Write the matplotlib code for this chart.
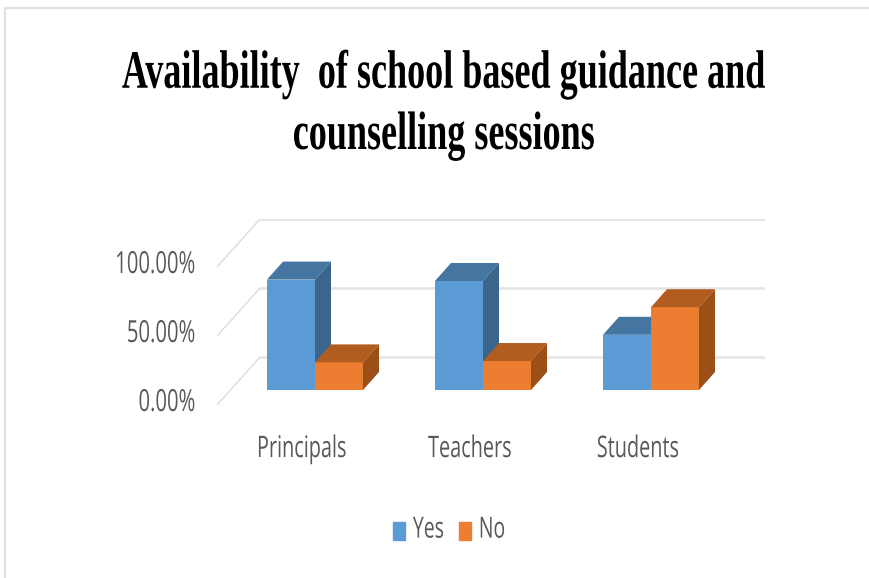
import matplotlib
matplotlib.use("Agg")
import matplotlib.pyplot as plt
import matplotlib.patheffects as pe
from matplotlib.patches import Patch, Rectangle
from matplotlib.transforms import Affine2D, ScaledTranslation

categories = ["Principals", "Teachers", "Students"]
yes = [80, 79, 40]
no = [20, 21, 60]
yticks = [0, 50, 100]
yticklabels = ["0.00%", "50.00%", "100.00%"]
title = "Availability  of school based guidance and\ncounselling sessions"

W, H = 869, 578
GREY = "#595959"


class Stretch(pe.AbstractPathEffect):
    # the reference text is squashed sideways, so pull glyphs up from the baseline
    def __init__(self, sy):
        super().__init__()
        self.sy = sy

    def draw_path(self, renderer, gc, tpath, affine, rgbFace=None):
        renderer.draw_path(gc, tpath, Affine2D().scale(1, self.sy) + affine, rgbFace)


fig = plt.figure(figsize=(W / 100, H / 100), dpi=100)
fig.add_artist(Rectangle((5 / W, -0.05), 1.1, 1.05 - 8 / H, transform=fig.transFigure,
                         fill=False, ec="#e2e2e2", lw=1.6))

# axes box in pixels: x 217-765, y 219-405
ax = fig.add_axes([217 / W, 1 - 405 / H, (765 - 217) / W, (405 - 219) / H])
ax.set_xlim((217 - 315) / 168, (765 - 315) / 168)
ax.set_ylim((390 - 405) / 1.38, (390 - 219) / 1.38)
for s in ax.spines.values():
    s.set_visible(False)
ax.patch.set_alpha(0)

# walls
x0, x1 = ax.get_xlim()
wall_dx = 43 / 168
back_dy = 33 / 1.38
front_dy = -15 / 1.38
for v in yticks:
    ax.plot([x0, x0 + wall_dx], [v + front_dy, v + back_dy], color="#dcdcdc", lw=1.0, zorder=1)
    ax.plot([x0 + wall_dx, x1], [v + back_dy, v + back_dy], color="#e4e4e4", lw=1.8, zorder=1)

# bars with fake depth
bw = 48 / 168
dx = 16 / 168
dy = 18 / 1.38


def bar3d(x, v, front, top, side, z):
    ax.bar(x, v, bw, align="edge", color=front, zorder=z)
    ax.fill([x, x + bw, x + bw + dx, x + dx], [v, v, v + dy, v + dy], color=top, lw=0, zorder=z)
    ax.fill([x + bw, x + bw + dx, x + bw + dx, x + bw], [0, dy, v + dy, v], color=side, lw=0, zorder=z)


for i in range(len(categories)):
    bar3d(i - bw, yes[i], "#5b9bd5", "#4575a1", "#3a658c", 3 + i)
    bar3d(i, no[i], "#ed7d31", "#b35c1f", "#9b5018", 3.5 + i)

stretch = [Stretch(1.5)]
ax.set_xticks(range(len(categories)), categories)
ax.set_yticks(yticks, yticklabels)
ax.tick_params(axis="both", length=0, labelcolor=GREY)
ax.tick_params(axis="x", pad=37.5, labelsize=14.3)
ax.tick_params(axis="y", pad=15.5, labelsize=14.6)
xshift = ScaledTranslation(-13 / 100, 0, fig.dpi_scale_trans)
yshift = ScaledTranslation(0, -21 / 100, fig.dpi_scale_trans)
for lab in ax.get_xticklabels():
    lab.set_family("Open Sans")
    lab.set_va("baseline")
    lab.set_transform(lab.get_transform() + xshift)
    lab.set_path_effects(stretch)
for lab in ax.get_yticklabels():
    lab.set_family("Open Sans")
    lab.set_va("baseline")
    lab.set_transform(lab.get_transform() + yshift)
    lab.set_path_effects(stretch)

fig.text(444 / W, 1 - 149 / H, title, ha="center", va="baseline", family="Liberation Serif",
         weight="bold", fontsize=26, color="black", linespacing=2.13,
         path_effects=[Stretch(1.5)])

handles = [Patch(color="#5b9bd5", label="Yes"), Patch(color="#ed7d31", label="No")]
leg = fig.legend(handles=handles, ncol=2, frameon=False, loc="center",
                 bbox_to_anchor=(449 / W, 1 - 532 / H), labelcolor=GREY,
                 handlelength=0.62, handleheight=0.98, handletextpad=0.42, columnspacing=0.75,
                 prop={"family": "Open Sans", "size": 14})
for t in leg.get_texts():
    t.set_path_effects(stretch)

fig.savefig("out.png", dpi=100)
